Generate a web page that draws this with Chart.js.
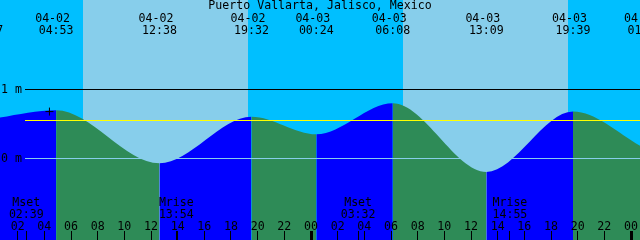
<!DOCTYPE html>
<html>
<head>
<meta charset="utf-8">
<title>Puerto Vallarta, Jalisco, Mexico</title>
<script src="https://cdn.jsdelivr.net/npm/chart.js@4.4.1/dist/chart.umd.min.js"></script>
<style>
  html, body { margin: 0; padding: 0; background: #00bfff; }
  canvas { display: block; }
</style>
</head>
<body>
<canvas id="tideChart" width="640" height="240"></canvas>
<script>
// Datos (horas locales, alturas en metros)
const stationName = "Puerto Vallarta, Jalisco, Mexico";

const tideTimes   = ["04-01 23:37", "04-02 04:53", "04-02 12:38", "04-02 19:32", "04-03 00:24",
                     "04-03 06:08", "04-03 13:09", "04-03 19:39", "04-04 01:03"];
const tideHeights = [0.56, 0.70, -0.07, 0.605, 0.35, 0.80, -0.195, 0.68, 0.145];

const sunriseTimes = ["04-02 06:54", "04-03 06:54"];
const sunsetTimes  = ["04-02 19:16", "04-03 19:16"];

const moonLabels = ["Mset", "Mrise", "Mset", "Mrise"];
const moonTimes  = ["04-02 02:39", "04-02 13:54", "04-03 03:32", "04-03 14:55"];

const levelLines  = [1, 0];          // líneas de 1 m y 0 m
const levelLabels = ["1 m", "0 m"];
const markLevel   = 0.55;            // línea amarilla

const nowTime  = "04-02 04:23";
const nowLevel = 0.68;

const hourTicks = [2, 4, 6, 8, 10, 12, 14, 16, 18, 20, 22, 24, 26, 28, 30, 32, 34, 36, 38, 40, 42, 44, 46, 48];

// Rango visible (horas desde 04-02 00:00) y alturas
const xMin = 0.675, xMax = 48.675;
const yMin = -1.1812, yMax = 2.2971;

// Colores
const nightSky = "#00bfff";
const daySky   = "#87ceeb";
const flood    = "#0000ff";
const ebb      = "#2e8b57";

const FONT = "11.6px 'DejaVu Sans Mono', 'Liberation Mono', monospace";

function horas(s) {
  const dia = parseInt(s.slice(3, 5), 10);
  const hh = parseInt(s.slice(6, 8), 10);
  const mm = parseInt(s.slice(9, 11), 10);
  return (dia - 2) * 24 + hh + mm / 60;
}

const tidePoints = tideTimes.map((t, i) => ({ x: horas(t), y: tideHeights[i] }));

// 🌅 Fondo día / noche
const skyPlugin = {
  id: "sky",
  beforeDraw(chart) {
    const { ctx, chartArea: a, scales: { x } } = chart;
    ctx.save();
    ctx.fillStyle = nightSky;
    ctx.fillRect(a.left, a.top, a.right - a.left, a.bottom - a.top);
    ctx.fillStyle = daySky;
    sunriseTimes.forEach((sr, i) => {
      const x0 = Math.round(x.getPixelForValue(horas(sr)));
      const x1 = Math.round(x.getPixelForValue(horas(sunsetTimes[i])));
      ctx.fillRect(x0, a.top, x1 - x0, a.bottom - a.top);
    });
    ctx.restore();
  }
};

// 📝 Líneas, marcas y textos
const overlayPlugin = {
  id: "overlay",
  afterDraw(chart) {
    const { ctx, chartArea: a, scales: { x, y } } = chart;
    ctx.save();

    // líneas de nivel
    levelLines.forEach((lv, i) => {
      ctx.fillStyle = i === 0 ? "#000000" : daySky;
      ctx.fillRect(25, Math.floor(y.getPixelForValue(lv)), a.right - 25, 1);
    });
    ctx.fillStyle = "#ffff00";
    ctx.fillRect(25, Math.floor(y.getPixelForValue(markLevel)), a.right - 25, 1);

    ctx.font = FONT;
    ctx.fillStyle = "#000000";
    ctx.textBaseline = "alphabetic";

    // etiquetas de nivel
    ctx.textAlign = "left";
    levelLines.forEach((lv, i) => {
      ctx.fillText(levelLabels[i], 1, Math.floor(y.getPixelForValue(lv)) + 4);
    });

    // título
    ctx.textAlign = "center";
    ctx.fillText(stationName, 320, 9);

    // eventos de marea
    tideTimes.forEach(t => {
      const px = x.getPixelForValue(horas(t));
      ctx.fillText(t.slice(0, 5), px - 3.5, 22);
      ctx.fillText(t.slice(6), px, 34);
    });

    // luna
    moonTimes.forEach((t, i) => {
      const px = x.getPixelForValue(horas(t));
      ctx.fillText(moonLabels[i], px, 206);
      ctx.fillText(t.slice(6), px, 218);
      ctx.fillRect(Math.floor(px), 231, 1, 9);
    });

    // horas
    hourTicks.forEach(h => {
      const px = x.getPixelForValue(h);
      const lbl = String(h % 24).padStart(2, "0");
      ctx.fillText(lbl, px, 229.5);
      if (h % 24 === 0) {
        ctx.fillRect(Math.floor(px) - 1, 231, 3, 9);
      } else {
        ctx.fillRect(Math.floor(px), 231, 1, 9);
      }
    });

    ctx.restore();
  }
};

new Chart(document.getElementById("tideChart"), {
  type: "line",
  data: {
    datasets: [
      {
        label: "Marea",
        data: tidePoints,
        order: 1,
        cubicInterpolationMode: "monotone",
        fill: "start",
        backgroundColor: flood,
        borderColor: "rgba(0,0,0,0)",
        borderWidth: 0,
        pointRadius: 0,
        segment: {
          backgroundColor: c => (c.p1.parsed.y > c.p0.parsed.y ? flood : ebb)
        }
      },
      {
        label: "Ahora",
        data: [{ x: horas(nowTime), y: nowLevel }],
        order: 0,
        showLine: false,
        pointStyle: "cross",
        pointRadius: 4,
        borderColor: "#000000",
        borderWidth: 1
      }
    ]
  },
  options: {
    responsive: false,
    animation: false,
    layout: { padding: 0, autoPadding: false },
    scales: {
      x: { type: "linear", display: false, min: xMin, max: xMax },
      y: { display: false, min: yMin, max: yMax }
    },
    plugins: {
      legend: { display: false },
      tooltip: { enabled: false }
    }
  },
  plugins: [skyPlugin, overlayPlugin]
});
</script>
</body>
</html>
